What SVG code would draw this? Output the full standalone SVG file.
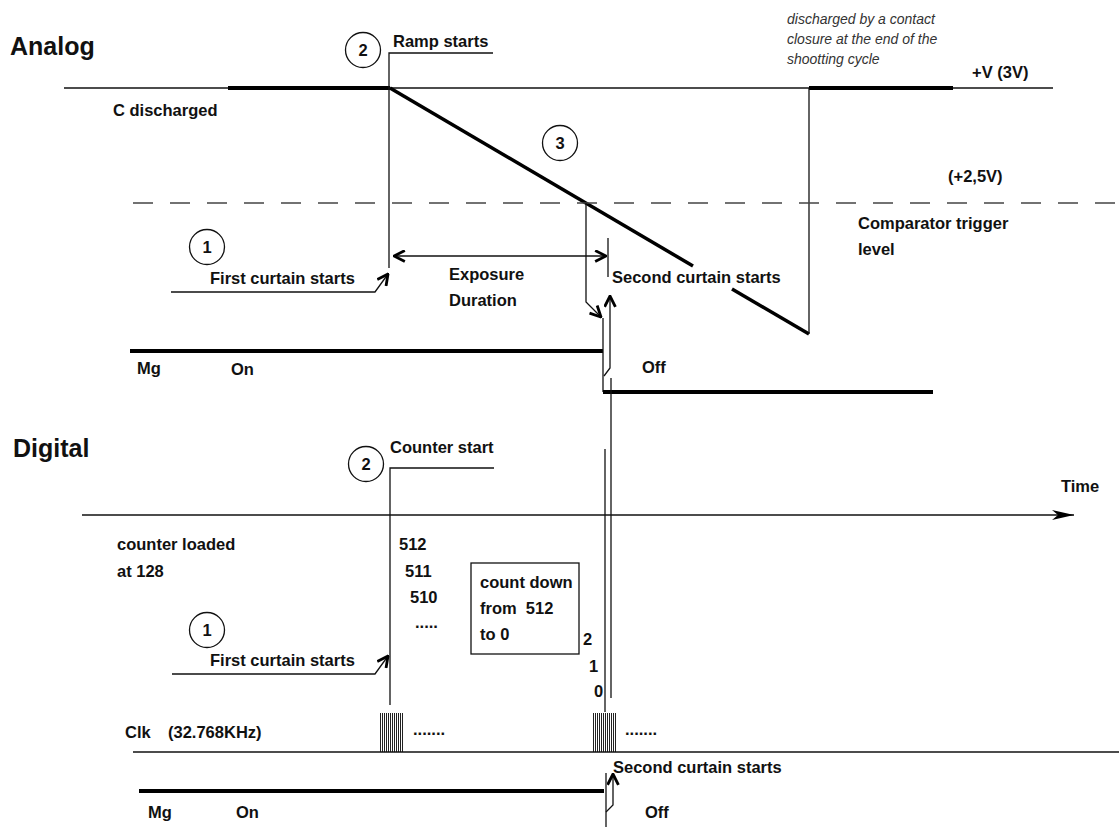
<svg xmlns="http://www.w3.org/2000/svg" width="1119" height="827" viewBox="0 0 1119 827">
<defs>
<style>
.t{font-family:"Liberation Sans",Arial,sans-serif;font-weight:bold;font-size:16.5px;fill:#111;white-space:pre}
.h{font-size:25px}
.i{font-weight:normal;font-style:italic;font-size:14px;fill:#333}
.c{text-anchor:middle}
.thin{stroke:#111;stroke-width:1.3;fill:none}
.thick{stroke:#000;stroke-width:4;fill:none}
.ramp{stroke:#000;stroke-width:3.5;fill:none}
.dash{stroke:#444;stroke-width:1.5;stroke-dasharray:20 17;fill:none}
.circ{fill:none;stroke:#111;stroke-width:1.3}
.clk{stroke:#222;stroke-width:1;fill:none;shape-rendering:crispEdges}
</style>
<marker id="chev" viewBox="0 0 12 12" refX="11" refY="6" markerWidth="13" markerHeight="13" markerUnits="userSpaceOnUse" orient="auto-start-reverse">
<path d="M1,1 L11,6 L1,11" fill="none" stroke="#000" stroke-width="2.6"/>
</marker>
<marker id="tri" viewBox="0 0 24 12" refX="23" refY="6" markerWidth="24" markerHeight="12" markerUnits="userSpaceOnUse" orient="auto">
<path d="M1,1 L23,6 L1,11 L7,6 Z" fill="#000"/>
</marker>
</defs>
<rect width="1119" height="827" fill="#fff"/>

<g id="connectors">
<!-- analog -->
<path class="thin" d="M64,88 H1053"/>
<path class="thick" d="M228,88 H390"/>
<path class="thick" d="M809,88 H953"/>
<path class="ramp" d="M390,88 L693,266"/>
<path class="ramp" d="M732,289 L809,334"/>
<path class="thin" d="M809,88 V334"/>
<path class="thin" d="M493,53 H389 V268"/>
<path class="dash" d="M133,203 H1119"/>
<path class="thin" d="M608,238 V277"/>
<path class="thin" d="M171,292 H375 L388,274" marker-end="url(#chev)"/>
<path class="thin" d="M394,256 H606" marker-start="url(#chev)" marker-end="url(#chev)"/>
<path class="thin" d="M586,203 V302 L601,317" marker-end="url(#chev)"/>
<path class="thin" d="M604,376 L610,368 V296" marker-end="url(#chev)"/>
<path class="thick" d="M130,351 H603"/>
<path class="thin" d="M603,318 V392"/>
<path class="thick" d="M603,392 H933"/>
<path class="thin" d="M611,378 V698"/>
<!-- digital -->
<path class="thin" d="M494,468 H390 V705"/>
<path class="thin" d="M82,515 H1074" marker-end="url(#tri)"/>
<path class="thin" d="M605,449 V712"/>
<path class="thin" d="M172,674 H375 L388,656" marker-end="url(#chev)"/>
<path class="clk" d="M380.5,713V752M382.5,713V752M384.5,713V752M386.5,713V752M388.5,713V752M390.5,713V752M392.5,713V752M394.5,713V752M396.5,713V752M398.5,713V752M400.5,713V752M402.5,713V752"/>
<path class="clk" d="M593.5,713V752M595.5,713V752M597.5,713V752M599.5,713V752M601.5,713V752M603.5,713V752M605.5,713V752M607.5,713V752M609.5,713V752M611.5,713V752M613.5,713V752M615.5,713V752"/>
<path class="thin" d="M133,752 H1119"/>
<path class="thin" d="M606,812 L613,805 V774" marker-end="url(#chev)"/>
<path class="thick" d="M139,791 H604"/>
<path class="thin" d="M606,773 V827"/>
</g>

<g id="title-analog"><text class="t h" x="10" y="55">Analog</text></g>
<g id="title-digital"><text class="t h" x="13" y="457">Digital</text></g>

<g id="a-c-discharged"><text class="t" x="113" y="116">C discharged</text></g>
<g id="a-step2"><circle class="circ" cx="363" cy="50" r="17.5"/><text class="t c" x="363" y="56">2</text></g>
<g id="a-ramp-starts"><text class="t" x="393" y="47">Ramp starts</text></g>
<g id="a-step3"><circle class="circ" cx="560" cy="143" r="17.5"/><text class="t c" x="560" y="149">3</text></g>
<g id="a-note">
<text class="t i" x="787" y="24">discharged by a contact</text>
<text class="t i" x="787" y="44">closure at the end of the</text>
<text class="t i" x="787" y="64">shootting cycle</text>
</g>
<g id="a-vplus"><text class="t" x="972" y="78">+V (3V)</text></g>
<g id="a-2v5"><text class="t" x="948" y="182">(+2,5V)</text></g>
<g id="a-comparator"><text class="t" x="858" y="229">Comparator trigger</text><text class="t" x="858" y="255">level</text></g>
<g id="a-step1"><circle class="circ" cx="207" cy="247" r="17.5"/><text class="t c" x="207" y="253">1</text></g>
<g id="a-first-curtain"><text class="t" x="210" y="284">First curtain starts</text></g>
<g id="a-exposure"><text class="t" x="449" y="280">Exposure</text><text class="t" x="449" y="306">Duration</text></g>
<g id="a-second-curtain"><text class="t" x="612" y="283">Second curtain starts</text></g>
<g id="a-mg"><text class="t" x="137" y="374">Mg</text><text class="t" x="231" y="375">On</text><text class="t" x="642" y="373">Off</text></g>

<g id="d-step2"><circle class="circ" cx="366" cy="464" r="17.5"/><text class="t c" x="366" y="470">2</text></g>
<g id="d-counter-start"><text class="t" x="390" y="453">Counter start</text></g>
<g id="d-time"><text class="t" x="1061" y="492">Time</text></g>
<g id="d-loaded"><text class="t" x="117" y="550">counter loaded</text><text class="t" x="117" y="577">at 128</text></g>
<g id="d-counts">
<text class="t" x="399" y="550">512</text>
<text class="t" x="405" y="577">511</text>
<text class="t" x="410" y="603">510</text>
<text class="t" x="415" y="628">.....</text>
</g>
<g id="d-box">
<rect x="471" y="563" width="108" height="91" fill="none" stroke="#111" stroke-width="1.3"/>
<text class="t" x="480" y="588">count down</text>
<text class="t" x="480" y="614">from  512</text>
<text class="t" x="480" y="640">to 0</text>
</g>
<g id="d-step1"><circle class="circ" cx="207" cy="630" r="17.5"/><text class="t c" x="207" y="636">1</text></g>
<g id="d-first-curtain"><text class="t" x="210" y="666">First curtain starts</text></g>
<g id="d-end-counts">
<text class="t" x="583" y="645">2</text>
<text class="t" x="589" y="672">1</text>
<text class="t" x="594" y="697">0</text>
</g>
<g id="d-clk">
<text class="t" x="125" y="738">Clk</text>
<text class="t" x="168" y="738">(32.768KHz)</text>
<text class="t" x="413" y="735">.......</text>
<text class="t" x="625" y="735">.......</text>
</g>
<g id="d-second-curtain"><text class="t" x="613" y="773">Second curtain starts</text></g>
<g id="d-mg"><text class="t" x="148" y="818">Mg</text><text class="t" x="236" y="818">On</text><text class="t" x="645" y="818">Off</text></g>
</svg>
